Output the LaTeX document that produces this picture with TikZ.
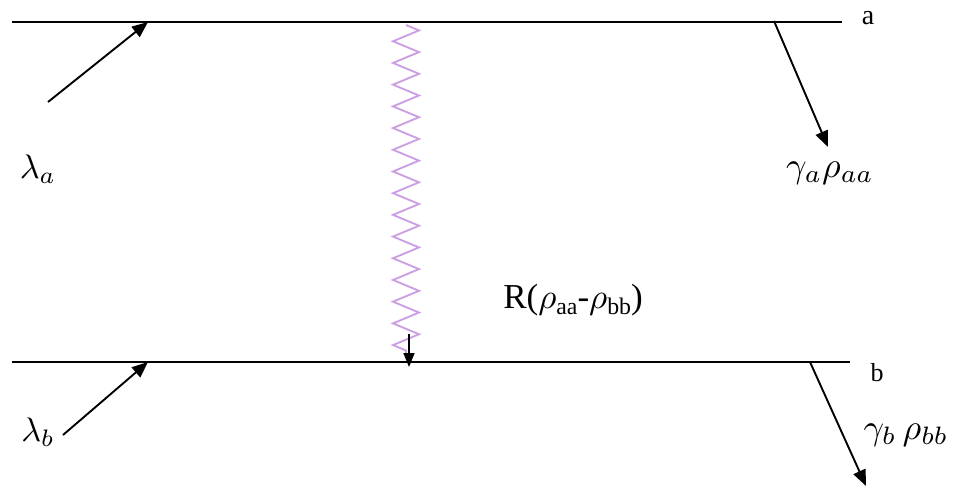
\documentclass[tikz,border=0pt]{standalone}
\usepackage{fontspec}
\setmainfont{Liberation Serif}
\usetikzlibrary{arrows.meta,decorations.pathmorphing}
\definecolor{wavec}{RGB}{205,160,228}
\newcommand{\scmath}[2]{\scalebox{#1}{\fontsize{10}{12}\selectfont$#2$}}
\newcommand{\sctext}[2]{\scalebox{#1}{\fontsize{10}{12}\selectfont #2}}
\newcommand{\subtxt}[1]{\raisebox{-1.8pt}{\fontsize{6.8}{8}\selectfont #1}}
\tikzset{
  line/.style={line width=1.9pt},
  arr/.style={line width=1.9pt,-{Triangle[length=16pt,width=13pt]}},
  smallarr/.style={line width=1.7pt,-{Triangle[length=14pt,width=11pt]}},
  wave/.style={wavec,line width=1.9pt,decorate,decoration={zigzag,segment length=21.7pt,amplitude=13pt}},
  mlab/.style={inner sep=0pt,font=\normalsize},
}
\begin{document}
\begin{tikzpicture}[x=1pt,y=-1pt]
\useasboundingbox (0,0) rectangle (961,486);
% levels
\coordinate (a1) at (12,22);
\coordinate (a2) at (842,22);
\coordinate (b1) at (12,362);
\coordinate (b2) at (850,362);
\draw[line] (a1) -- (a2);
\draw[line,line width=1.6pt] (b1) -- (b2);
% pump arrows
\coordinate (la0) at (48,102);
\coordinate (la1) at (148,22);
\coordinate (lb0) at (63,435);
\coordinate (lb1) at (148,362);
\draw[arr] (la0) -- (la1);
\draw[arr] (lb0) -- (lb1);
% decay arrows
\coordinate (ga0) at (774,21);
\coordinate (ga1) at (828,147);
\coordinate (gb0) at (810,362);
\coordinate (gb1) at (866,486);
\draw[arr] (ga0) -- (ga1);
\draw[arr] (gb0) -- (gb1);
% wavy transition
\coordinate (w0) at (406,25);
\coordinate (w1) at (406,358);
\draw[wave] (w0) -- (w1);
\coordinate (s0) at (409,334);
\coordinate (s1) at (409,367);
\draw[smallarr] (s0) -- (s1);
% labels
\node[mlab] (lambdaa) at (38,169) {\scmath{3.4}{\lambda_a}};
\node[mlab] (lambdab) at (38,432) {\scmath{3.4}{\lambda_b}};
\node[mlab] (gammaa) at (830,173) {\scmath{3.6}{\gamma_a\rho_{aa}}};
\node[mlab] (gammab) at (906,435) {\scmath{3.6}{\gamma_b\,\rho_{bb}}};
\node[mlab] (la) at (868,18) {\sctext{2.8}{a}};
\node[mlab] (lb) at (877,373) {\sctext{2.6}{b}};
\node[mlab] (rate) at (573,300) {\sctext{3.5}{R($\rho$\subtxt{aa}-$\rho$\subtxt{bb})}};
\end{tikzpicture}
\end{document}
